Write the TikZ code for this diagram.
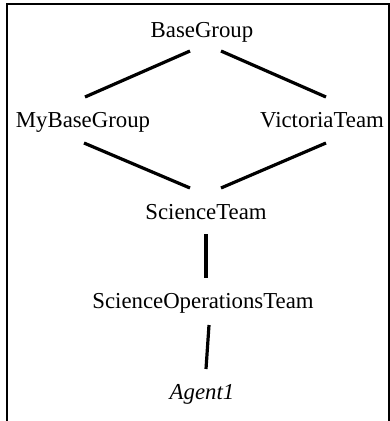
\documentclass[tikz,border=0pt]{standalone}
\usepackage{fontspec}
\setmainfont{Liberation Serif}
\begin{document}
\begin{tikzpicture}[x=1pt,y=1pt,
  lbl/.style={inner sep=0pt, anchor=base, font=\fontsize{22.8}{27}\selectfont},
  edge/.style={line width=3.2pt},
  frame/.style={line width=1.4pt}]
\useasboundingbox (0,0) rectangle (390,-421);
\draw[frame] (7,-421) -- (7,-4) -- (389,-4) -- (389,-421);
\node[lbl] (bg)  at (202,-37)  {BaseGroup};
\node[lbl] (mbg) at (83,-127)  {MyBaseGroup};
\node[lbl] (vt)  at (322,-127) {VictoriaTeam};
\node[lbl] (st)  at (206,-219) {ScienceTeam};
\node[lbl] (sot) at (203,-308) {ScienceOperationsTeam};
\node[lbl] (ag)  at (202,-399) {\itshape Agent1};
\draw[edge] ([shift={(-12,-14)}]bg.base) -- ([shift={(2,30)}]mbg.base);
\draw[edge] ([shift={(19,-14)}]bg.base) -- ([shift={(4,30)}]vt.base);
\draw[edge] ([shift={(1,-16)}]mbg.base) -- ([shift={(-16,31)}]st.base);
\draw[edge] ([shift={(4,-16)}]vt.base) -- ([shift={(15,31)}]st.base);
\draw[edge] ([shift={(0,-15)}]st.base) -- ([shift={(3,30)}]sot.base);
\draw[edge] ([shift={(6,-17)}]sot.base) -- ([shift={(4,30)}]ag.base);
\end{tikzpicture}
\end{document}
